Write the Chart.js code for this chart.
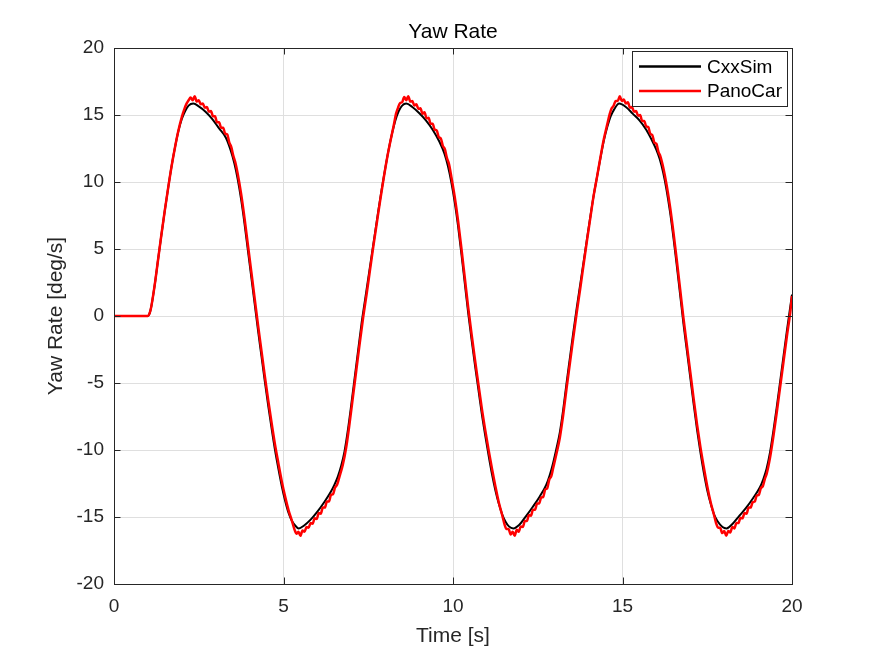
<!DOCTYPE html>
<html>
<head>
<meta charset="utf-8">
<title>Yaw Rate</title>
<script src="https://cdn.jsdelivr.net/npm/chart.js@4.4.1/dist/chart.umd.min.js"></script>
<style>
  html, body { margin: 0; padding: 0; background: #fff; }
  #wrap { width: 875px; height: 656px; }
</style>
</head>
<body>
<div id="wrap"><canvas id="yawChart" width="875" height="656"></canvas></div>
<script>
/* =========================
   DATA
========================= */

const chartTitle = "Yaw Rate";
const xTitle = "Time [s]";
const yTitle = "Yaw Rate [deg/s]";

const xTicks = [0, 5, 10, 15, 20];
const yTicks = [-20, -15, -10, -5, 0, 5, 10, 15, 20];

const seriesNames = ["CxxSim", "PanoCar"];

// CxxSim
const cxxTime = [
    0, 0.5, 1.0, 1.05, 1.1, 1.2, 1.3, 1.4, 1.5, 1.6,
    1.7, 1.8, 1.9, 2.0, 2.1, 2.2, 2.34, 2.5, 2.7, 2.9,
    3.1, 3.3, 3.45, 3.55, 3.65, 3.75, 3.85, 3.95, 4.05, 4.15,
    4.25, 4.35, 4.45, 4.55, 4.65, 4.75, 4.85, 4.95, 5.05, 5.15,
    5.25, 5.35, 5.45, 5.6, 5.8, 6.0, 6.2, 6.4, 6.5, 6.6,
    6.7, 6.8, 6.9, 7.0, 7.1, 7.2, 7.3, 7.4, 7.5, 7.6,
    7.7, 7.8, 7.9, 8.0, 8.1, 8.2, 8.3, 8.4, 8.5, 8.62,
    8.8, 9.0, 9.2, 9.4, 9.6, 9.75, 9.85, 9.95, 10.05, 10.15,
    10.25, 10.35, 10.45, 10.55, 10.65, 10.75, 10.85, 10.95, 11.05, 11.15,
    11.25, 11.35, 11.45, 11.55, 11.65, 11.78, 11.95, 12.15, 12.35, 12.55,
    12.75, 12.85, 12.95, 13.05, 13.15, 13.25, 13.35, 13.45, 13.55, 13.65,
    13.75, 13.85, 13.95, 14.05, 14.15, 14.25, 14.35, 14.45, 14.55, 14.65,
    14.75, 14.9, 15.1, 15.3, 15.5, 15.7, 15.85, 16.0, 16.1, 16.2,
    16.3, 16.4, 16.5, 16.6, 16.7, 16.8, 16.9, 17.0, 17.1, 17.2,
    17.3, 17.4, 17.5, 17.6, 17.7, 17.8, 17.95, 18.07, 18.25, 18.45,
    18.65, 18.85, 19.05, 19.15, 19.25, 19.35, 19.45, 19.55, 19.65, 19.75,
    19.85, 19.95, 20.0
];
const cxxYaw = [
    0, 0, 0, 0.2, 0.7, 2.3, 4.2, 6.1, 7.9, 9.6,
    11.2, 12.6, 13.8, 14.7, 15.3, 15.7, 15.85, 15.65, 15.25, 14.7,
    14.0, 13.3, 12.3, 11.4, 10.2, 8.7, 6.9, 4.9, 2.9, 0.9,
    -1.1, -3.0, -4.9, -6.7, -8.4, -10.0, -11.4, -12.7, -13.8, -14.7,
    -15.3, -15.65, -15.85, -15.65, -15.2, -14.6, -13.9, -13.1, -12.6, -12.0,
    -11.2, -10.1, -8.5, -6.6, -4.6, -2.6, -0.6, 1.1, 2.8, 4.5,
    6.2, 7.9, 9.5, 11.0, 12.4, 13.6, 14.6, 15.3, 15.7, 15.85,
    15.6, 15.15, 14.6, 13.9, 13.0, 12.1, 11.2, 10.0, 8.5, 6.7,
    4.6, 2.4, 0.2, -1.8, -3.7, -5.5, -7.3, -8.9, -10.4, -11.8,
    -13.0, -14.0, -14.8, -15.35, -15.7, -15.85, -15.6, -14.95, -14.25, -13.5,
    -12.6, -11.9, -11.0, -9.9, -8.7, -7.0, -5.0, -3.1, -1.2, 0.6,
    2.3, 4.0, 5.7, 7.4, 9.0, 10.4, 11.8, 13.1, 14.1, 14.9,
    15.4, 15.85, 15.6, 15.1, 14.6, 13.9, 13.2, 12.4, 11.7, 10.7,
    9.4, 7.8, 5.9, 3.8, 1.6, -0.6, -2.6, -4.6, -6.6, -8.5,
    -10.2, -11.7, -13.0, -14.0, -14.8, -15.3, -15.75, -15.85, -15.5, -14.9,
    -14.3, -13.6, -12.8, -12.2, -11.4, -10.2, -8.6, -6.8, -4.9, -3.0,
    -1.1, 0.7, 1.6
];

// PanoCar (a bit higher at the peaks, small ripple on the shoulders)
const panoTime = [
    0, 0.5, 1.0, 1.05, 1.1, 1.2, 1.3, 1.4, 1.5, 1.6,
    1.7, 1.8, 1.9, 2.0, 2.07, 2.14, 2.2, 2.26, 2.32, 2.38,
    2.44, 2.5, 2.56, 2.62, 2.68, 2.74, 2.8, 2.86, 2.92, 2.98,
    3.04, 3.1, 3.16, 3.22, 3.28, 3.34, 3.4, 3.46, 3.52, 3.58,
    3.65, 3.75, 3.85, 3.95, 4.05, 4.15, 4.25, 4.35, 4.45, 4.55,
    4.65, 4.75, 4.85, 4.95, 5.05, 5.15, 5.25, 5.32, 5.38, 5.44,
    5.5, 5.56, 5.62, 5.68, 5.74, 5.8, 5.86, 5.92, 5.98, 6.04,
    6.1, 6.16, 6.22, 6.28, 6.34, 6.4, 6.46, 6.52, 6.58, 6.65,
    6.75, 6.85, 6.95, 7.05, 7.15, 7.25, 7.35, 7.45, 7.55, 7.65,
    7.75, 7.85, 7.95, 8.05, 8.15, 8.25, 8.32, 8.38, 8.44, 8.5,
    8.56, 8.62, 8.68, 8.74, 8.8, 8.86, 8.92, 8.98, 9.04, 9.1,
    9.16, 9.22, 9.28, 9.34, 9.4, 9.46, 9.52, 9.58, 9.64, 9.7,
    9.76, 9.82, 9.88, 9.95, 10.05, 10.15, 10.25, 10.35, 10.45, 10.55,
    10.65, 10.75, 10.85, 10.95, 11.05, 11.15, 11.25, 11.35, 11.45, 11.52,
    11.58, 11.64, 11.7, 11.76, 11.82, 11.88, 11.94, 12.0, 12.06, 12.12,
    12.18, 12.24, 12.3, 12.36, 12.42, 12.48, 12.54, 12.6, 12.66, 12.72,
    12.78, 12.84, 12.9, 12.95, 13.05, 13.15, 13.25, 13.35, 13.45, 13.55,
    13.65, 13.75, 13.85, 13.95, 14.05, 14.15, 14.25, 14.35, 14.45, 14.55,
    14.62, 14.68, 14.74, 14.8, 14.86, 14.92, 14.98, 15.04, 15.1, 15.16,
    15.22, 15.28, 15.34, 15.4, 15.46, 15.52, 15.58, 15.64, 15.7, 15.76,
    15.82, 15.88, 15.94, 16.0, 16.06, 16.12, 16.2, 16.3, 16.4, 16.5,
    16.6, 16.7, 16.8, 16.9, 17.0, 17.1, 17.2, 17.3, 17.4, 17.5,
    17.6, 17.7, 17.76, 17.82, 17.88, 17.94, 18.0, 18.06, 18.12, 18.18,
    18.24, 18.3, 18.36, 18.42, 18.48, 18.54, 18.6, 18.66, 18.72, 18.78,
    18.84, 18.9, 18.96, 19.02, 19.08, 19.14, 19.2, 19.25, 19.35, 19.45,
    19.55, 19.65, 19.75, 19.85, 19.95, 20.0
];
const panoYaw = [
    0, 0, 0, 0.2, 0.7, 2.3, 4.2, 6.1, 7.9, 9.6,
    11.2, 12.6, 13.85, 14.85, 15.4, 15.85, 16.1, 16.3, 16.1, 16.4,
    16.0, 16.1, 15.8, 15.85, 15.55, 15.6, 15.25, 15.3, 14.9, 14.9,
    14.45, 14.45, 14.05, 14.05, 13.6, 13.55, 12.95, 12.6, 11.95, 11.45,
    10.6, 9.1, 7.3, 5.3, 3.3, 1.3, -0.7, -2.6, -4.5, -6.3,
    -8.0, -9.6, -11.0, -12.35, -13.5, -14.5, -15.3, -15.9, -16.25, -16.1,
    -16.4, -16.0, -16.1, -15.75, -15.8, -15.45, -15.5, -15.1, -15.15, -14.7,
    -14.75, -14.3, -14.3, -13.85, -13.85, -13.35, -13.3, -12.8, -12.6, -12.0,
    -11.1, -9.8, -8.0, -6.0, -4.0, -2.0, -0.1, 1.6, 3.4, 5.2,
    6.9, 8.6, 10.2, 11.7, 13.0, 14.2, 15.1, 15.55, 15.9, 15.95,
    16.35, 16.1, 16.4, 16.0, 16.05, 15.7, 15.8, 15.45, 15.5, 15.1,
    15.2, 14.75, 14.8, 14.35, 14.35, 13.9, 13.85, 13.35, 13.25, 12.7,
    12.45, 11.8, 11.35, 10.4, 8.9, 7.1, 5.0, 2.8, 0.6, -1.4,
    -3.3, -5.1, -6.9, -8.5, -10.0, -11.4, -12.7, -13.9, -14.85, -15.55,
    -15.9, -15.9, -16.3, -16.1, -16.4, -15.95, -16.1, -15.7, -15.75, -15.3,
    -15.3, -14.85, -14.9, -14.45, -14.45, -14.0, -14.0, -13.55, -13.5, -12.95,
    -12.85, -12.2, -11.95, -11.4, -10.3, -9.1, -7.4, -5.4, -3.5, -1.6,
    0.25, 2.0, 3.8, 5.6, 7.3, 9.0, 10.4, 11.85, 13.2, 14.3,
    15.05, 15.5, 15.7, 16.05, 16.05, 16.4, 16.05, 16.15, 15.85, 15.95,
    15.55, 15.6, 15.25, 15.3, 14.95, 15.0, 14.55, 14.55, 14.15, 14.1,
    13.6, 13.5, 12.95, 12.85, 12.25, 11.9, 11.1, 9.8, 8.2, 6.3,
    4.2, 2.0, -0.2, -2.2, -4.2, -6.2, -8.1, -9.8, -11.3, -12.7,
    -13.9, -14.85, -15.45, -15.8, -15.8, -16.2, -16.05, -16.4, -16.05, -16.15,
    -15.75, -15.85, -15.45, -15.45, -15.05, -15.1, -14.7, -14.75, -14.3, -14.3,
    -13.9, -13.85, -13.4, -13.35, -12.85, -12.7, -12.15, -11.8, -10.6, -9.0,
    -7.2, -5.3, -3.4, -1.5, 0.3, 1.5
];

/* =========================
   STYLE
========================= */
const FONT = "'Liberation Sans', Arial, Helvetica, sans-serif";
const AXIS_COLOR = "#262626";
const GRID_COLOR = "#dfdfdf";
const TICK_LEN = 6.5;

Chart.defaults.font.family = FONT;

/* =========================
   HELPERS
========================= */
function toPoints(xs, ys) {
    return xs.map((x, i) => ({ x: x, y: ys[i] }));
}

// title over the axes, box + inward ticks on all four sides, boxed legend
const matlabAxes = {
    id: "matlabAxes",
    afterDraw(chart) {
        const ctx = chart.ctx;
        const area = chart.chartArea;
        const xs = chart.scales.x;
        const ys = chart.scales.y;

        ctx.save();

        // title, centred over the plot box
        ctx.fillStyle = "#000000";
        ctx.font = "21px " + FONT;
        ctx.textAlign = "center";
        ctx.textBaseline = "middle";
        ctx.fillText(chartTitle, (area.left + area.right) / 2, 32);

        ctx.strokeStyle = AXIS_COLOR;
        ctx.lineWidth = 1;

        ctx.beginPath();
        xTicks.forEach(v => {
            const px = Math.round(xs.getPixelForValue(v)) + 0.5;
            ctx.moveTo(px, area.bottom);
            ctx.lineTo(px, area.bottom - TICK_LEN);
            ctx.moveTo(px, area.top);
            ctx.lineTo(px, area.top + TICK_LEN);
        });
        yTicks.forEach(v => {
            const py = Math.round(ys.getPixelForValue(v)) + 0.5;
            ctx.moveTo(area.left, py);
            ctx.lineTo(area.left + TICK_LEN, py);
            ctx.moveTo(area.right, py);
            ctx.lineTo(area.right - TICK_LEN, py);
        });
        ctx.stroke();

        ctx.strokeRect(Math.round(area.left) + 0.5, Math.round(area.top) + 0.5,
            Math.round(area.right - area.left), Math.round(area.bottom - area.top));

        // legend
        const lx = 632.5, ly = 51.5, lw = 155, lh = 55;
        ctx.fillStyle = "#ffffff";
        ctx.fillRect(lx, ly, lw, lh);
        ctx.strokeStyle = AXIS_COLOR;
        ctx.strokeRect(lx, ly, lw, lh);

        const rows = [
            { name: seriesNames[0], color: "#000000", width: 2.5, y: 66.5 },
            { name: seriesNames[1], color: "#ff0000", width: 2.5, y: 91 }
        ];
        ctx.font = "19px " + FONT;
        ctx.textAlign = "left";
        rows.forEach(r => {
            ctx.strokeStyle = r.color;
            ctx.lineWidth = r.width;
            ctx.beginPath();
            ctx.moveTo(639, r.y);
            ctx.lineTo(701, r.y);
            ctx.stroke();
            ctx.fillStyle = "#000000";
            ctx.fillText(r.name, 707, r.y + 1);
        });
        ctx.restore();
    }
};

/* =========================
   CHART
========================= */
const ctx = document.getElementById("yawChart").getContext("2d");

new Chart(ctx, {
    type: "line",
    data: {
        datasets: [
            {
                label: seriesNames[0],
                data: toPoints(cxxTime, cxxYaw),
                borderColor: "#000000",
                borderWidth: 2,
                pointRadius: 0,
                cubicInterpolationMode: "monotone",
                fill: false,
                order: 1
            },
            {
                label: seriesNames[1],
                data: toPoints(panoTime, panoYaw),
                borderColor: "#ff0000",
                borderWidth: 2.5,
                pointRadius: 0,
                cubicInterpolationMode: "monotone",
                fill: false,
                order: 0
            }
        ]
    },
    options: {
        responsive: false,
        animation: false,
        devicePixelRatio: 1,
        layout: { padding: { left: 0, right: 83, top: 48, bottom: 0 } },
        plugins: {
            legend: { display: false },
            tooltip: { enabled: false },
            title: { display: false }
        },
        scales: {
            x: {
                type: "linear",
                min: 0,
                max: 20,
                afterBuildTicks: s => { s.ticks = xTicks.map(v => ({ value: v })); },
                afterFit: s => { s.height = 72; },
                grid: { color: GRID_COLOR, drawTicks: false },
                border: { display: false },
                ticks: { color: AXIS_COLOR, font: { size: 19 }, padding: 11, maxRotation: 0, autoSkip: false },
                title: {
                    display: true,
                    text: xTitle,
                    color: AXIS_COLOR,
                    font: { size: 21 },
                    padding: { top: 0, bottom: 7 }
                }
            },
            y: {
                type: "linear",
                min: -20,
                max: 20,
                afterBuildTicks: s => { s.ticks = yTicks.map(v => ({ value: v })); },
                afterFit: s => { s.width = 114; },
                grid: { color: GRID_COLOR, drawTicks: false },
                border: { display: false },
                ticks: { color: AXIS_COLOR, font: { size: 19 }, padding: 10, autoSkip: false },
                title: {
                    display: true,
                    text: yTitle,
                    color: AXIS_COLOR,
                    font: { size: 21 },
                    padding: { top: 44, bottom: 0 }
                }
            }
        }
    },
    plugins: [matlabAxes]
});
</script>
</body>
</html>
